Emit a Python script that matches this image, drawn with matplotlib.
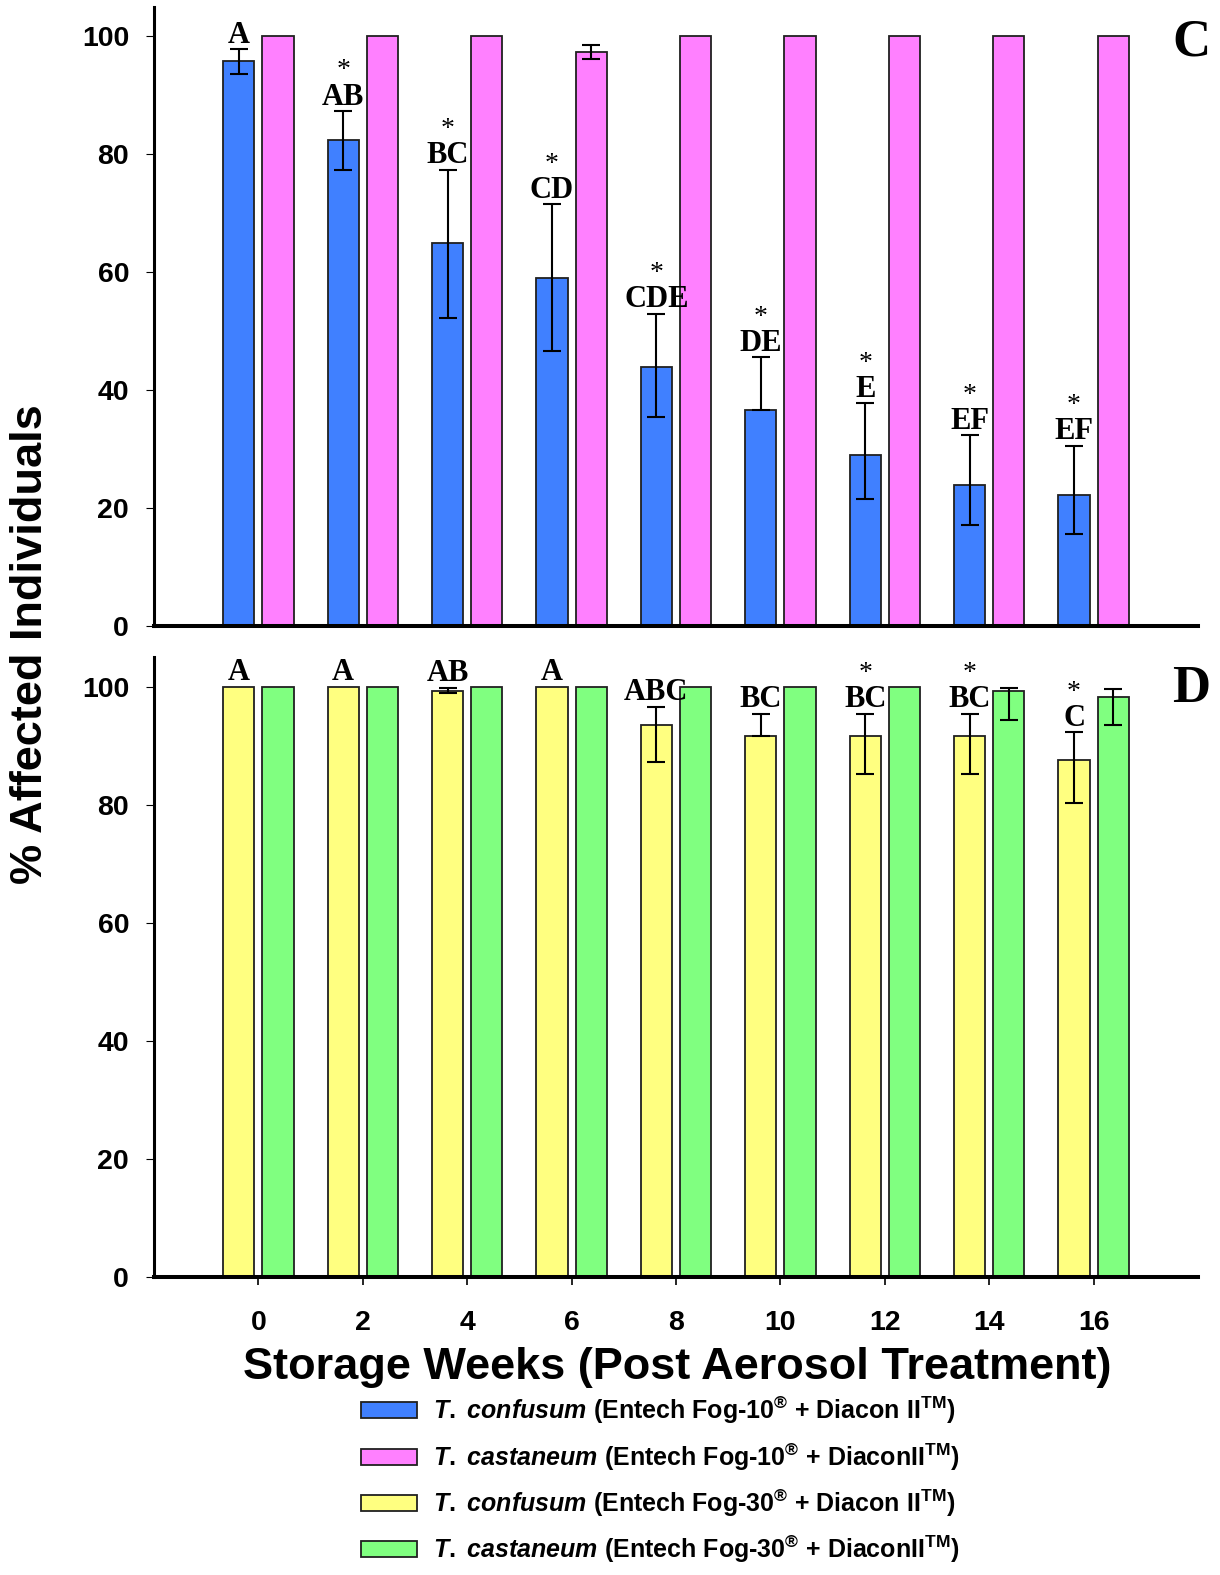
# Storage weeks after aerosol treatment: % affected Tribolium adults
import numpy as np
import matplotlib.pyplot as plt
from matplotlib.patches import Rectangle

weeks = np.array([0, 2, 4, 6, 8, 10, 12, 14, 16])

# Panel C: Entech Fog-10 + Diacon II
fog10_confusum = [95.9, 82.4, 64.9, 59.1, 44.0, 36.6, 29.0, 24.0, 22.3]
fog10_confusum_lo = [2.2, 5.0, 12.7, 12.5, 8.6, 0.0, 7.5, 6.9, 6.7]
fog10_confusum_hi = [2.0, 5.0, 12.5, 12.5, 9.0, 9.0, 8.8, 8.4, 8.3]
fog10_castaneum = [100, 100, 100, 97.4, 100, 100, 100, 100, 100]
fog10_castaneum_lo = [0, 0, 0, 1.2, 0, 0, 0, 0, 0]
fog10_castaneum_hi = [0, 0, 0, 1.2, 0, 0, 0, 0, 0]
fog10_letters = ["A", "AB", "BC", "CD", "CDE", "DE", "E", "EF", "EF"]
fog10_stars = [False, True, True, True, True, True, True, True, True]

# Panel D: Entech Fog-30 + Diacon II
fog30_confusum = [100, 100, 99.3, 100, 93.4, 91.6, 91.7, 91.7, 87.5]
fog30_confusum_lo = [0, 0, 0.4, 0, 6.2, 0.0, 6.5, 6.5, 7.2]
fog30_confusum_hi = [0, 0, 0.5, 0, 3.2, 3.8, 3.7, 3.7, 4.8]
fog30_castaneum = [100, 100, 100, 100, 100, 100, 100, 99.2, 98.3]
fog30_castaneum_lo = [0, 0, 0, 0, 0, 0, 0, 4.9, 4.8]
fog30_castaneum_hi = [0, 0, 0, 0, 0, 0, 0, 0.6, 1.3]
fog30_letters = ["A", "A", "AB", "A", "ABC", "BC", "BC", "BC", "C"]
fog30_stars = [False, False, False, False, False, False, True, True, True]

labels = [
    r"$\mathit{T.}$ $\mathit{confusum}$ (Entech Fog-10$^{\circledR}$ + Diacon II$^{\mathrm{TM}}$)",
    r"$\mathit{T.}$ $\mathit{castaneum}$ (Entech Fog-10$^{\circledR}$ + DiaconII$^{\mathrm{TM}}$)",
    r"$\mathit{T.}$ $\mathit{confusum}$ (Entech Fog-30$^{\circledR}$ + Diacon II$^{\mathrm{TM}}$)",
    r"$\mathit{T.}$ $\mathit{castaneum}$ (Entech Fog-30$^{\circledR}$ + DiaconII$^{\mathrm{TM}}$)",
]
colors = ["#4080FF", "#FF80FF", "#FFFF80", "#80FF80"]

plt.rcParams["font.family"] = ["Liberation Sans", "DejaVu Sans"]
plt.rcParams["mathtext.fontset"] = "custom"
plt.rcParams["mathtext.rm"] = "Liberation Sans:bold"
plt.rcParams["mathtext.bf"] = "Liberation Sans:bold"
plt.rcParams["mathtext.it"] = "Liberation Sans:italic:bold"

W, H = 1220, 1575
fig = plt.figure(figsize=(W / 100, H / 100), dpi=100)
ax_c = fig.add_axes([154 / W, 1 - 626 / H, 1044 / W, 619 / H])
ax_d = fig.add_axes([154 / W, 1 - 1277 / H, 1044 / W, 620 / H])

off = 0.375
bw = 0.6


def draw_bar(ax, x, vals, lo, hi, color):
    ax.bar(x, vals, width=bw, color=color, edgecolor="#202020", linewidth=1.3, zorder=2)
    vals = np.array(vals, float)
    lo = np.array(lo, float)
    hi = np.array(hi, float)
    m = (lo + hi) > 0
    ax.errorbar(x[m], vals[m], yerr=[lo[m], hi[m]], fmt="none", ecolor="black",
                elinewidth=1.5, capsize=6.5, capthick=1.5, zorder=3)


def draw_letters(ax, x, vals, hi, letters, stars):
    for xi, v, h, t, s in zip(x, vals, hi, letters, stars):
        ax.annotate(t, (xi, v + h), xytext=(0, 4.5), textcoords="offset points",
                    ha="center", va="baseline", family="Liberation Serif",
                    fontweight="bold", fontsize=22, zorder=4)
        if s:
            ax.annotate("*", (xi, v + h), xytext=(0, 24), textcoords="offset points",
                        ha="center", va="baseline", family="Liberation Serif",
                        fontsize=20, zorder=4)


draw_bar(ax_c, weeks - off, fog10_confusum, fog10_confusum_lo, fog10_confusum_hi, colors[0])
draw_bar(ax_c, weeks + off, fog10_castaneum, fog10_castaneum_lo, fog10_castaneum_hi, colors[1])
draw_letters(ax_c, weeks - off, fog10_confusum, fog10_confusum_hi, fog10_letters, fog10_stars)

draw_bar(ax_d, weeks - off, fog30_confusum, fog30_confusum_lo, fog30_confusum_hi, colors[2])
draw_bar(ax_d, weeks + off, fog30_castaneum, fog30_castaneum_lo, fog30_castaneum_hi, colors[3])
draw_letters(ax_d, weeks - off, fog30_confusum, fog30_confusum_hi, fog30_letters, fog30_stars)

for ax in (ax_c, ax_d):
    ax.set_xlim(-2, 18)
    ax.set_ylim(0, 105)
    ax.set_yticks([0, 20, 40, 60, 80, 100])
    ax.spines["top"].set_visible(False)
    ax.spines["right"].set_visible(False)
    ax.spines["left"].set_linewidth(2.2)
    ax.spines["bottom"].set_linewidth(2.9)
    ax.tick_params(axis="y", length=6, width=0.8, pad=12, labelsize=20.5)
    for lab in ax.get_yticklabels():
        lab.set_fontweight("bold")

ax_c.set_xticks([])
ax_d.set_xticks(weeks)
ax_d.tick_params(axis="x", length=6, width=1.2, pad=18, labelsize=20.5)
for lab in ax_d.get_xticklabels():
    lab.set_fontweight("bold")

fig.text(1191 / W, 1 - 42 / H, "C", family="Liberation Serif", fontweight="bold",
         fontsize=38, ha="center", va="center")
fig.text(1191 / W, 1 - 689 / H, "D", family="Liberation Serif", fontweight="bold",
         fontsize=38, ha="center", va="center")

fig.text(31 / W, 1 - 644 / H, "% Affected Individuals", rotation=90, fontsize=32.5,
         fontweight="bold", ha="center", va="center")
fig.text(677 / W, 1 - 1368 / H, "Storage Weeks (Post Aerosol Treatment)", fontsize=32.5,
         fontweight="bold", ha="center", va="center")

# legend drawn by hand below the axes
rows_y = [1410, 1457, 1503, 1549]
for lab, col, yc in zip(labels, colors, rows_y):
    fig.add_artist(Rectangle((361 / W, 1 - (yc + 8) / H), 56 / W, 16 / H,
                             transform=fig.transFigure, facecolor=col,
                             edgecolor="#202020", linewidth=1.3))
    fig.text(433 / W, 1 - yc / H, lab, fontsize=18, fontweight="bold", va="center")

fig.savefig("out.png", dpi=100)
